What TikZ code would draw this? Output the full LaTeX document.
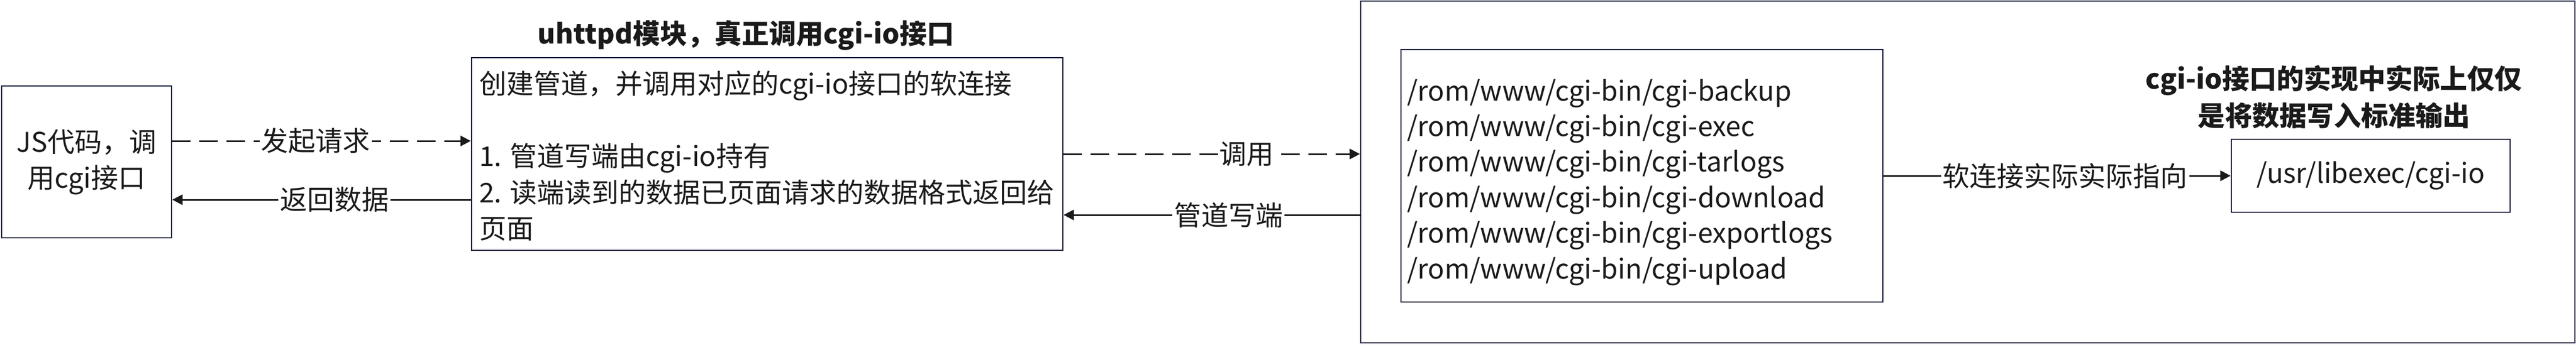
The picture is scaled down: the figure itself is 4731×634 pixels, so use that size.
\documentclass[tikz,border=0pt]{standalone}
\usepackage{fontspec}
\setmainfont{Noto Sans CJK SC}
\usetikzlibrary{arrows.meta}
\definecolor{boxline}{RGB}{18,24,58}
\definecolor{ink}{RGB}{26,26,26}
\begin{document}
\begin{tikzpicture}[x=1pt,y=-1pt,
  box/.style={draw=boxline,line width=2.8pt,rectangle,inner sep=0pt},
  txt/.style={font=\fontsize{50}{66}\selectfont,text=ink,inner sep=0pt},
  btxt/.style={font=\fontsize{50}{68}\selectfont\bfseries,text=ink,inner sep=0pt},
  conn/.style={draw=ink,line width=3pt,-{Triangle[length=19pt,width=19pt]}},
  dsh/.style={dash pattern=on 34pt off 16pt},
  lbl/.style={font=\fontsize{50}{66}\selectfont,text=ink,fill=white,inner sep=3pt}]
\useasboundingbox (0,0) rectangle (4731,634);
\fill[white] (0,0) rectangle (4731,634);
% boxes
\node[box,txt,align=center,minimum width=312pt,minimum height=279pt] (js) at (159,297.5) {JS代码，调\\用cgi接口};
\node[box,minimum width=1086pt,minimum height=354pt] (uh) at (1409,283) {};
\node[btxt] (title) at (1370,65) {uhttpd模块，真正调用cgi-io接口};
\node[txt,align=left,anchor=north west,font=\fontsize{50}{66.5}\selectfont] (uhtext) at (880,130)
  {创建管道，并调用对应的cgi-io接口的软连接\\[66.5pt]1. 管道写端由cgi-io持有\\2. 读端读到的数据已页面请求的数据格式返回给\\页面};
\node[box,minimum width=2230pt,minimum height=628pt] (big) at (3614,316) {};
\node[box,minimum width=885pt,minimum height=464pt] (list) at (3015.5,323) {};
\node[txt,align=left,anchor=north west,font=\fontsize{50}{65.4}\selectfont] (listtext) at (2584,145)
  {/rom/www/cgi-bin/cgi-backup\\/rom/www/cgi-bin/cgi-exec\\/rom/www/cgi-bin/cgi-tarlogs\\/rom/www/cgi-bin/cgi-download\\/rom/www/cgi-bin/cgi-exportlogs\\/rom/www/cgi-bin/cgi-upload};
\node[box,txt,minimum width=512pt,minimum height=134pt] (cgi) at (4354,323) {/usr/libexec/cgi-io};
\node[btxt,align=center] (note) at (4286,178) {cgi-io接口的实现中实际上仅仅\\是将数据写入标准输出};
% connectors
\draw[conn,dsh] ([yshift=38.5pt]js.east) -- ([yshift=24pt]uh.west) node[lbl,pos=0.48] {发起请求};
\draw[conn] ([yshift=-84pt]uh.west) -- ([yshift=-69.5pt]js.east) node[lbl,pos=0.457] {返回数据};
\draw[conn,dsh] (uh.east) -- ([yshift=33pt]big.west) node[lbl,pos=0.618] {调用};
\draw[conn] ([yshift=-79pt]big.west) -- ([yshift=-112pt]uh.east) node[lbl,pos=0.444] {管道写端};
\draw[conn] (list.east) -- (cgi.west) node[lbl,pos=0.523] {软连接实际实际指向};
\end{tikzpicture}
\end{document}
